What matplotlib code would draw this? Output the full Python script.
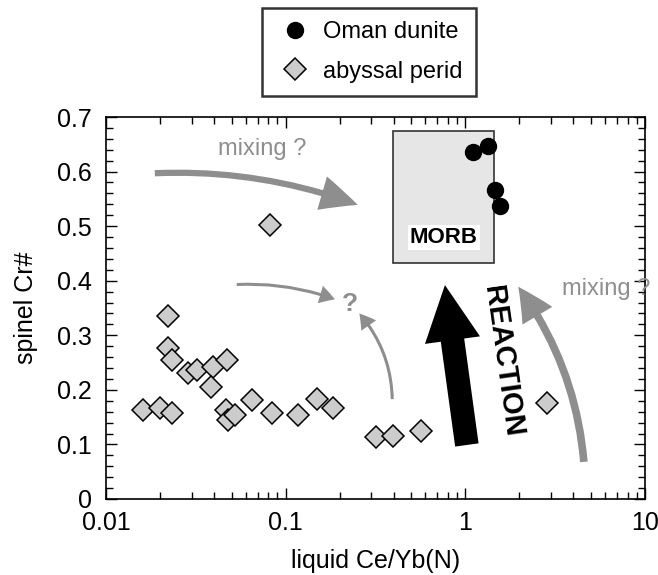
import numpy as np
import matplotlib.pyplot as plt
from matplotlib.patches import Rectangle, FancyArrowPatch
from matplotlib.ticker import FuncFormatter, MultipleLocator

plt.rcParams['font.family'] = ['Liberation Sans', 'DejaVu Sans']

# abyssal peridotites: liquid Ce/Yb(N) vs spinel Cr#
perid_x = [0.0161, 0.0200, 0.0234, 0.0222, 0.0222, 0.0234, 0.0286, 0.0320,
           0.0395, 0.0470, 0.0384, 0.0464, 0.0480, 0.0523, 0.0647, 0.0836,
           0.0818, 0.1175, 0.1487, 0.184, 0.317, 0.397, 0.564, 2.86]
perid_y = [0.163, 0.166, 0.157, 0.335, 0.277, 0.255, 0.230, 0.236,
           0.242, 0.255, 0.205, 0.163, 0.145, 0.154, 0.181, 0.157,
           0.502, 0.154, 0.183, 0.167, 0.113, 0.115, 0.125, 0.175]

# Oman dunites
oman_x = [1.11, 1.34, 1.47, 1.56]
oman_y = [0.636, 0.646, 0.566, 0.537]

# MORB field
morb_x = [0.397, 1.45]
morb_y = [0.432, 0.674]

gray = '#8e8e8e'

fig = plt.figure(figsize=(6.58, 5.75), dpi=100)
ax = fig.add_axes([0.1611, 0.1322, 0.8191, 0.6643])

ax.add_patch(Rectangle((morb_x[0], morb_y[0]), morb_x[1] - morb_x[0], morb_y[1] - morb_y[0],
                       facecolor='#e6e6e6', edgecolor='#333333', lw=1.2, zorder=1))
ax.text(0.76, 0.48, 'MORB', fontsize=16, fontweight='bold', ha='center', va='center',
        bbox=dict(facecolor='white', edgecolor='none', pad=1.5), zorder=2)

ax.plot(oman_x, oman_y, 'o', ms=11.5, mfc='black', mec='black', label='Oman dunite', zorder=4)
ax.plot(perid_x, perid_y, 'D', ms=11, mfc='#cccccc', mec='black', mew=1.1,
        label='abyssal perid', zorder=3)


def arrow(p0, p1, rad, hl, hw, tw, color):
    a = FancyArrowPatch(p0, p1, transform=ax.transData,
                        arrowstyle='simple,head_length=%g,head_width=%g,tail_width=%g' % (hl, hw, tw),
                        connectionstyle='arc3,rad=%g' % rad, mutation_scale=1,
                        shrinkA=0, shrinkB=0, color=color, lw=0, zorder=2)
    ax.add_patch(a)


arrow((0.0187, 0.597), (0.252, 0.539), -0.1, 27, 25, 4.5, gray)
arrow((0.0534, 0.393), (0.188, 0.366), -0.1, 11, 13, 2.2, gray)
arrow((0.392, 0.183), (0.257, 0.340), 0.18, 11, 13, 2.2, gray)
arrow((4.57, 0.068), (1.97, 0.389), 0.14, 25, 25, 5.5, gray)
arrow((1.02, 0.099), (0.77, 0.392), 0.0, 40, 40, 17, 'black')

ax.text(0.0738, 0.641, 'mixing ?', fontsize=17, color=gray, ha='center', va='center')
ax.text(6.1, 0.385, 'mixing ?', fontsize=17, color=gray, ha='center', va='center')
ax.text(0.228, 0.357, '?', fontsize=19, fontweight='bold', color=gray, ha='center', va='center')
ax.text(1.62, 0.253, 'REACTION', fontsize=21, fontweight='bold', rotation=-82,
        ha='center', va='center', rotation_mode='anchor')

ax.set_xscale('log')
ax.set_xlim(0.01, 10)
ax.set_ylim(0, 0.7)
ax.yaxis.set_major_locator(MultipleLocator(0.1))
ax.yaxis.set_minor_locator(MultipleLocator(0.02))
fmt = FuncFormatter(lambda v, p: '%g' % v)
ax.xaxis.set_major_formatter(fmt)
ax.yaxis.set_major_formatter(fmt)
ax.tick_params(which='both', direction='in', top=True, right=True, width=1.0, labelsize=18)
ax.tick_params(which='major', length=8)
ax.tick_params(which='minor', length=5)
ax.tick_params(axis='x', pad=9)
ax.tick_params(axis='y', pad=10)
for s in ax.spines.values():
    s.set_linewidth(1.2)

ax.set_xlabel('liquid Ce/Yb(N)', fontsize=18, labelpad=10)
ax.set_ylabel('spinel Cr#', fontsize=18, labelpad=14)

leg = ax.legend(loc='upper left', bbox_to_anchor=(0.398, 0.986), bbox_transform=fig.transFigure,
                fontsize=17, frameon=True, fancybox=False, borderpad=0.55, handlelength=1.7,
                handletextpad=0.35, labelspacing=0.75, borderaxespad=0)
leg.get_frame().set_edgecolor('black')
leg.get_frame().set_linewidth(1.8)

fig.savefig('out.png', dpi=100)
